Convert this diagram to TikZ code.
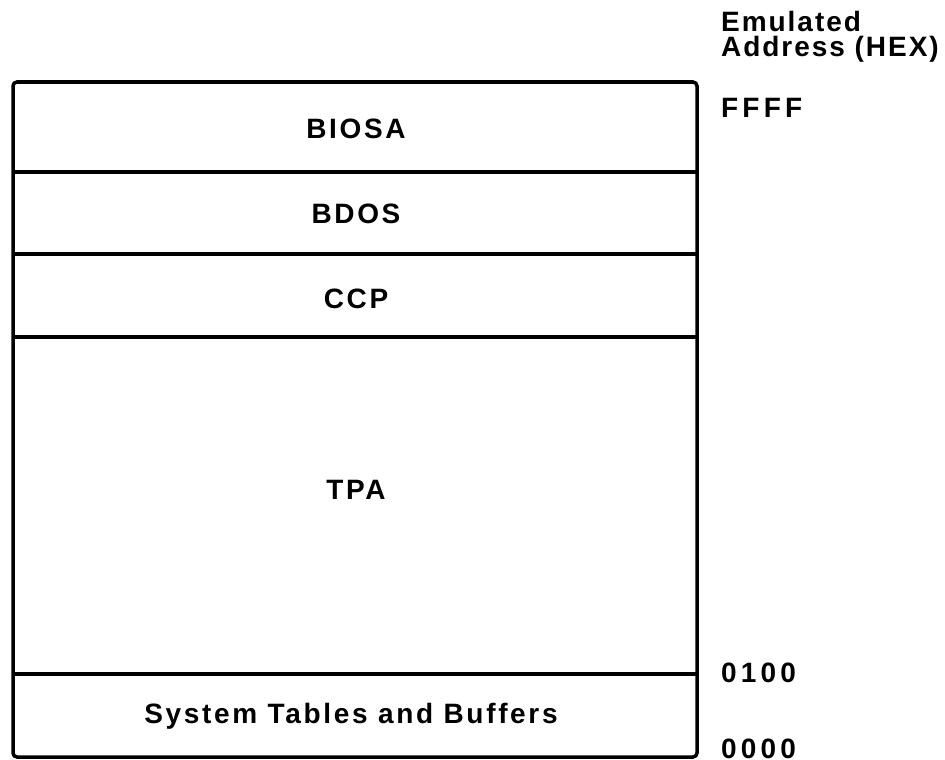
\documentclass[tikz,border=0pt]{standalone}
\usepackage{fontspec}
\setmainfont{Liberation Sans}[LetterSpace=7]
\newfontfamily\boxfont{Liberation Sans}[LetterSpace=9.5]
\newfontfamily\hexfont{Liberation Sans}[LetterSpace=15]
\begin{document}
\begin{tikzpicture}[x=1pt,y=-1pt,
  lbl/.style={font=\boxfont\bfseries\fontsize{28}{28}\selectfont, inner sep=0pt, anchor=base},
  addr/.style={font=\bfseries\fontsize{28}{28}\selectfont, inner sep=0pt, anchor=base west},
  hex/.style={font=\hexfont\bfseries\fontsize{28}{28}\selectfont, inner sep=0pt, anchor=base west},
  frame/.style={line width=3.5pt},
  divider/.style={line width=3.5pt}]
\useasboundingbox (0,0) rectangle (945,760);
% frame
\draw[frame, rounded corners=4pt] (13,82) rectangle (697,757);
\coordinate (d1l) at (13,172); \coordinate (d1r) at (697,172);
\coordinate (d2l) at (13,254); \coordinate (d2r) at (697,254);
\coordinate (d3l) at (13,337); \coordinate (d3r) at (697,337);
\coordinate (d4l) at (13,674); \coordinate (d4r) at (697,674);
\draw[divider] (d1l) -- (d1r);
\draw[divider] (d2l) -- (d2r);
\draw[divider] (d3l) -- (d3r);
\draw[divider] (d4l) -- (d4r);
% section labels
\node[lbl] (biosa) at (356,138) {BIOSA};
\node[lbl] (bdos) at (356,223) {BDOS};
\node[lbl] (ccp) at (356,308) {CCP};
\node[lbl] (tpa) at (356,499) {TPA};
\node[lbl] (sys) at (351,723) {System Tables and Buffers};
% address labels
\node[addr] (emu) at (721,32) {Emulated};
\node[addr] (adr) at (721,57) {Address (HEX)};
\node[hex] (ffff) at (721,117) {FFFF};
\node[hex] (a0100) at (721,682) {0100};
\node[hex] (a0000) at (721,758) {0000};
\end{tikzpicture}
\end{document}
